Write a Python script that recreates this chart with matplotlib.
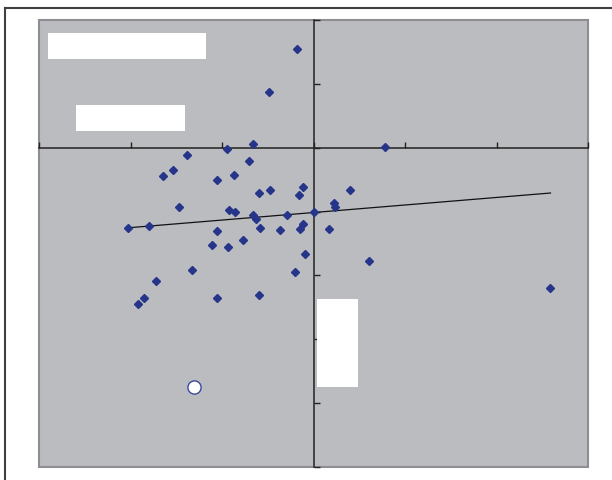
import numpy as np
import matplotlib
matplotlib.use("Agg")
import matplotlib.pyplot as plt
from matplotlib.patches import Rectangle

# values (axis units: x ticks every 1, y ticks every 1)
x_vals = [-0.18, -0.49, -0.66, -0.94, -1.38, -0.71, -1.54, -1.64, -0.87, -1.06,
          -0.11, -0.16, -0.60, -0.48, -1.47, -0.92, -0.86, 0.00, -0.66, -0.63,
          -0.29, -2.03, -1.80, -1.06, -0.59, -0.37, -0.15, -0.12, -0.77, 0.78,
          0.40, 0.22, 0.23, 0.17, -1.11, -0.93, -0.09, -1.33, -0.20, -1.72,
          -1.85, -1.92, -1.06, -0.60, 0.61, 2.59]
y_vals = [1.54, 0.88, 0.06, -0.02, -0.11, -0.21, -0.35, -0.45, -0.43, -0.50,
          -0.62, -0.74, -0.71, -0.67, -0.93, -0.98, -1.00, -1.00, -1.06, -1.12,
          -1.06, -1.25, -1.22, -1.30, -1.25, -1.29, -1.27, -1.20, -1.44, 0.01,
          -0.67, -0.87, -0.93, -1.28, -1.53, -1.55, -1.66, -1.92, -1.95, -2.09,
          -2.35, -2.45, -2.36, -2.31, -1.78, -2.19]
circle_x = [-1.31]
circle_y = [-3.75]

# linear trend as shown in the chart
trend_slope = 0.118
trend_intercept = -1.015

x_ticks = [-3, -2, -1, 0, 1, 2, 3]
y_ticks = [-5, -4, -3, -2, -1, 0, 1, 2]

blue = "#26348a"

fig = plt.figure(figsize=(6.12, 4.81), dpi=100)
fig.patch.set_facecolor("white")

# outer chart border (only top and left edges fall inside the image)
fig.add_artist(plt.Line2D([5/612, 1], [1 - 9/481, 1 - 9/481], transform=fig.transFigure,
                          color="#404040", lw=1.5))
fig.add_artist(plt.Line2D([5/612, 5/612], [0, 1 - 9/481], transform=fig.transFigure,
                          color="#404040", lw=1.5))

ax = fig.add_axes([39/612, 1 - 468/481, (588 - 39)/612, (468 - 21)/481])
ax.set_facecolor("#bbbcc0")
ax.set_xlim(-3, 3)
ax.set_ylim(-5, 2)

ax.spines["left"].set_position(("data", 0))
ax.spines["bottom"].set_position(("data", 0))
ax.spines["top"].set_visible(False)
ax.spines["right"].set_visible(False)
for s in ("left", "bottom"):
    ax.spines[s].set_color("#222222")
    ax.spines[s].set_linewidth(1.1)
ax.add_patch(Rectangle((0, 0), 1, 1, transform=ax.transAxes, fill=False,
                       edgecolor="#8e8e92", lw=1.5, zorder=0.5, clip_on=False))

ax.set_xticks(x_ticks)
ax.set_yticks(y_ticks)
ax.tick_params(direction="in", length=4, width=1, color="#222222",
               labelbottom=False, labelleft=False)

tx = np.array([min(x_vals), max(x_vals)])
ax.plot(tx, trend_slope * tx + trend_intercept, color="#111111", lw=0.9, zorder=2)

ax.plot(x_vals, y_vals, "D", color=blue, ms=4.4, mec=blue, zorder=3, clip_on=False)
ax.plot(circle_x, circle_y, "o", ms=9.5, mfc="white", mec="#3a4a9a", mew=1, zorder=3)

# white label boxes
ax.add_patch(Rectangle((9/549, 1 - 39/447), 158/549, 26/447, transform=ax.transAxes,
                       facecolor="white", edgecolor="none", zorder=4))
ax.add_patch(Rectangle((37/549, 1 - 111/447), 109/549, 26/447, transform=ax.transAxes,
                       facecolor="white", edgecolor="none", zorder=4))
ax.add_patch(Rectangle((278/549, 1 - 367/447), 41/549, 88/447, transform=ax.transAxes,
                       facecolor="white", edgecolor="none", zorder=4))

fig.savefig("out.png", dpi=100)
